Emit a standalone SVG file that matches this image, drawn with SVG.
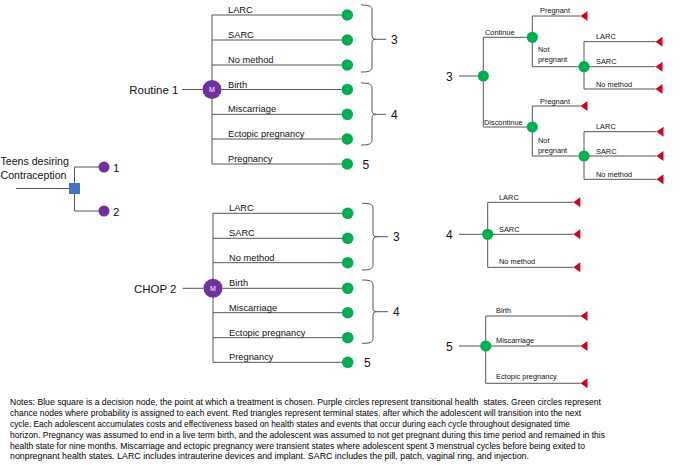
<svg xmlns="http://www.w3.org/2000/svg" width="689" height="472" viewBox="0 0 689 472">
<style>
  text { font-family: "Liberation Sans", Arial, sans-serif; fill: #111111; }
  .ln { stroke: #555555; stroke-width: 1; fill: none; }
  .br { stroke: #555555; stroke-width: 1; fill: none; }
  .g { fill: #00B050; }
  .p { fill: #7030A0; }
  .t { fill: #D8001C; }
  .lb { font-size: 9.3px; }
  .ls { font-size: 7.4px; }
  .big { font-size: 11.5px; }
  .num { font-size: 12px; }
  .m { font-size: 7px; fill: #ffffff; text-anchor: middle; }
  .note { font-size: 9px; fill: #000000; }
</style>
<defs>
  <path id="tri" d="M0,0 L7,-5 L7,5 Z"/>
</defs>

<!-- connectors -->
<g id="connectors">
  <!-- left decision -->
  <path class="ln" d="M16,188.5 H69 M74.5,167 V183 M74.5,194 V211 M74.5,167 H99 M74.5,211 H99"/>
  <!-- Routine 1 tree -->
  <path class="ln" d="M182,89.5 H202.5 M212,15 V164 M212,15 H341.5 M212,40 H341.5 M212,65 H341.5 M221.5,89.5 H341.5 M212,114.3 H341.5 M212,139 H341.5 M212,164 H341.5"/>
  <!-- CHOP 2 tree -->
  <path class="ln" d="M182.7,288.3 H203.5 M213,213.3 V362.3 M213,213.3 H342 M213,238.3 H342 M213,262.7 H342 M222.5,288.3 H342 M213,312.7 H342 M213,337.7 H342 M213,362.3 H342"/>
  <!-- braces -->
  <path class="br" d="M361,5 C369,5 372,6 372,10 L372,35 C372,38 373,39.3 376,39.3 C373,39.3 372,40.5 372,43.5 L372,67 C372,71 369,72 361,72 M376,39.3 H386"/>
  <path class="br" d="M361,83 C369,83 372,84 372,88 L372,110 C372,113 373,114.3 376,114.3 C373,114.3 372,115.5 372,118.5 L372,140 C372,144 369,145 361,145 M376,114.3 H386"/>
  <path class="br" d="M362,203.3 C370,203.3 373,204.3 373,208.3 L373,233 C373,235.7 374,236.7 377,236.7 C374,236.7 373,238 373,241 L373,265 C373,269 370,270 362,270 M377,236.7 H388"/>
  <path class="br" d="M362,280 C370,280 373,281 373,285 L373,308 C373,310.7 374,311.7 377,311.7 C374,311.7 373,313 373,316 L373,338.5 C373,342.5 370,343.3 362,343.3 M377,311.7 H388"/>
  <!-- right tree 3 -->
  <path class="ln" d="M459,76 H478 M483.3,37.3 V126.7 M483.3,37.3 H527 M483.3,127 H527"/>
  <path class="ln" d="M532.3,16 V66.7 M532.3,16 H580.5 M532.3,66.7 H578.5 M584,41.7 V89 M584,41.7 H655.5 M584,66.7 H655.5 M584,89 H655.5"/>
  <path class="ln" d="M532.3,106 V156 M532.3,106 H580.5 M532.3,156 H578.5 M584,131.7 V179.3 M584,131.7 H656.5 M584,156 H656.5 M584,179.3 H656.5"/>
  <!-- right tree 4 -->
  <path class="ln" d="M459,234.3 H482 M487.7,202.3 V267.3 M487.7,202.3 H573.3 M487.7,234.3 H573.3 M487.7,267.3 H573.3"/>
  <!-- right tree 5 -->
  <path class="ln" d="M459,346 H480 M485.7,316 V383.3 M485.7,316 H580.5 M485.7,346 H580.5 M485.7,383.3 H580.5"/>
</g>

<!-- branch labels -->
<g id="labels">
  <text class="lb" x="228" y="13">LARC</text>
  <text class="lb" x="228" y="38">SARC</text>
  <text class="lb" x="228" y="63">No method</text>
  <text class="lb" x="228" y="87.5">Birth</text>
  <text class="lb" x="228" y="112.3">Miscarriage</text>
  <text class="lb" x="228" y="137">Ectopic pregnancy</text>
  <text class="lb" x="228" y="162">Pregnancy</text>

  <text class="lb" x="229" y="211.3">LARC</text>
  <text class="lb" x="229" y="236.3">SARC</text>
  <text class="lb" x="229" y="260.7">No method</text>
  <text class="lb" x="229" y="286.3">Birth</text>
  <text class="lb" x="229" y="310.7">Miscarriage</text>
  <text class="lb" x="229" y="335.7">Ectopic pregnancy</text>
  <text class="lb" x="229" y="360.3">Pregnancy</text>

  <text class="ls" x="485" y="35">Continue</text>
  <text class="ls" x="484" y="124.5">Discontinue</text>
  <text class="ls" x="540" y="13">Pregnant</text>
  <text class="ls" x="538" y="52">Not</text>
  <text class="ls" x="538" y="62">pregnant</text>
  <text class="ls" x="596" y="39">LARC</text>
  <text class="ls" x="596" y="64">SARC</text>
  <text class="ls" x="596" y="86.5">No method</text>
  <text class="ls" x="540" y="103.5">Pregnant</text>
  <text class="ls" x="538" y="143">Not</text>
  <text class="ls" x="538" y="153">pregnant</text>
  <text class="ls" x="596" y="129">LARC</text>
  <text class="ls" x="596" y="153.5">SARC</text>
  <text class="ls" x="596" y="176.5">No method</text>

  <text class="ls" x="499" y="199.5">LARC</text>
  <text class="ls" x="499" y="231.5">SARC</text>
  <text class="ls" x="499" y="264">No method</text>

  <text class="ls" x="496" y="313">Birth</text>
  <text class="ls" x="496" y="343">Miscarriage</text>
  <text class="ls" x="496" y="379">Ectopic pregnancy</text>

  <text class="num" x="391" y="43.5">3</text>
  <text class="num" x="391" y="118.5">4</text>
  <text class="num" x="362.5" y="168.5">5</text>
  <text class="num" x="393" y="241">3</text>
  <text class="num" x="393" y="316">4</text>
  <text class="num" x="364" y="366.5">5</text>
</g>

<!-- nodes -->
<g id="root">
  <text style="font-size:10.6px" x="0.5" y="165">Teens desiring</text>
  <text style="font-size:10.6px" x="0.5" y="178.5">Contraception</text>
</g>
<g id="decision"><rect x="69" y="183" width="11" height="11" fill="#4472C4"/></g>
<g id="state1"><circle class="p" cx="104" cy="167" r="5.5"/><text class="big" x="113" y="171.5">1</text></g>
<g id="state2"><circle class="p" cx="104" cy="211" r="5.5"/><text class="big" x="113" y="215.5">2</text></g>

<g id="routine1">
  <text class="big" x="178.5" y="93.5" text-anchor="end">Routine 1</text>
  <circle class="p" cx="212" cy="89.5" r="9.5"/><text class="m" x="212" y="92">M</text>
</g>
<g id="routine1-chance">
  <circle class="g" cx="347.3" cy="15" r="5.8"/>
  <circle class="g" cx="347.3" cy="40" r="5.8"/>
  <circle class="g" cx="347.3" cy="65" r="5.8"/>
  <circle class="g" cx="347.3" cy="89.5" r="5.8"/>
  <circle class="g" cx="347.3" cy="114.3" r="5.8"/>
  <circle class="g" cx="347.3" cy="139" r="5.8"/>
  <circle class="g" cx="347.3" cy="164" r="5.8"/>
</g>

<g id="chop2">
  <text class="big" x="176.5" y="292.5" text-anchor="end">CHOP 2</text>
  <circle class="p" cx="213" cy="288.3" r="9.5"/><text class="m" x="213" y="290.8">M</text>
</g>
<g id="chop2-chance">
  <circle class="g" cx="347.7" cy="213.3" r="5.8"/>
  <circle class="g" cx="347.7" cy="238.3" r="5.8"/>
  <circle class="g" cx="347.7" cy="262.7" r="5.8"/>
  <circle class="g" cx="347.7" cy="288.3" r="5.8"/>
  <circle class="g" cx="347.7" cy="312.7" r="5.8"/>
  <circle class="g" cx="347.7" cy="337.7" r="5.8"/>
  <circle class="g" cx="347.7" cy="362.3" r="5.8"/>
</g>

<g id="subtree3">
  <text class="num" x="446" y="80.5">3</text>
  <circle class="g" cx="483.3" cy="76" r="5.6"/>
  <circle class="g" cx="532.3" cy="37.3" r="5.6"/>
  <circle class="g" cx="532.3" cy="127" r="5.6"/>
  <circle class="g" cx="584" cy="66.7" r="5.6"/>
  <circle class="g" cx="584" cy="156" r="5.6"/>
  <use href="#tri" class="t" x="580.5" y="16"/>
  <use href="#tri" class="t" x="655.5" y="41.7"/>
  <use href="#tri" class="t" x="655.5" y="66.7"/>
  <use href="#tri" class="t" x="655.5" y="89"/>
  <use href="#tri" class="t" x="580.5" y="106"/>
  <use href="#tri" class="t" x="656.5" y="131.7"/>
  <use href="#tri" class="t" x="656.5" y="156"/>
  <use href="#tri" class="t" x="656.5" y="179.3"/>
</g>

<g id="subtree4">
  <text class="num" x="446" y="238.8">4</text>
  <circle class="g" cx="487.7" cy="234.3" r="5.6"/>
  <use href="#tri" class="t" x="573.3" y="202.3"/>
  <use href="#tri" class="t" x="573.3" y="234.3"/>
  <use href="#tri" class="t" x="573.3" y="267.3"/>
</g>

<g id="subtree5">
  <text class="num" x="446" y="350.5">5</text>
  <circle class="g" cx="485.7" cy="346" r="5.6"/>
  <use href="#tri" class="t" x="580.5" y="316"/>
  <use href="#tri" class="t" x="580.5" y="346"/>
  <use href="#tri" class="t" x="580.5" y="383.3"/>
</g>

<g id="notes">
  <text class="note" x="10" y="405" textLength="591" lengthAdjust="spacingAndGlyphs" xml:space="preserve">Notes: Blue square is a decision node, the point at which a treatment is chosen. Purple circles represent transitional health  states. Green circles represent</text>
  <text class="note" x="10" y="416" textLength="571" lengthAdjust="spacingAndGlyphs">chance nodes where probability is assigned to each event. Red triangles represent terminal states, after which the adolescent will transition into the next</text>
  <text class="note" x="10" y="426.8" textLength="560" lengthAdjust="spacingAndGlyphs">cycle. Each adolescent accumulates costs and effectiveness based on health states and events that occur during each cycle throughout designated time</text>
  <text class="note" x="10" y="437.7" textLength="595" lengthAdjust="spacingAndGlyphs">horizon. Pregnancy was assumed to end in a live term birth, and the adolescent was assumed to not get pregnant during this time period and remained in this</text>
  <text class="note" x="10" y="448.5" textLength="575" lengthAdjust="spacingAndGlyphs">health state for nine months. Miscarriage and ectopic pregnancy were transient states where adolescent spent 3 menstrual cycles before being exited to</text>
  <text class="note" x="10" y="459.4" textLength="519" lengthAdjust="spacingAndGlyphs">nonpregnant health states. LARC includes intrauterine devices and implant. SARC includes the pill, patch, vaginal ring, and injection.</text>
</g>
</svg>
